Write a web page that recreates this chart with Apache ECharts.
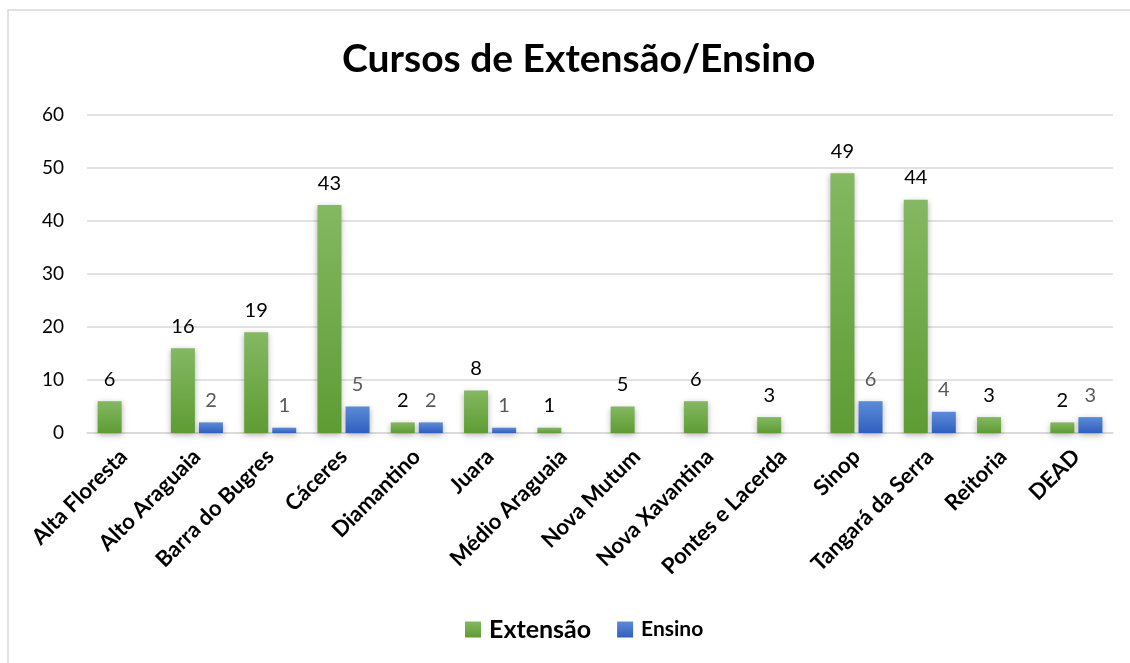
<!DOCTYPE html>
<html>
<head>
    <meta charset="utf-8">
    <title>Cursos de Extensão/Ensino</title>
    <script src="https://cdn.jsdelivr.net/npm/echarts@6/dist/echarts.min.js"></script>
    <style>
        html, body { margin: 0; padding: 0; background: #fff; }
        #chart { width: 1130px; height: 663px; }
    </style>
</head>
<body>
    <div id="chart"></div>
    <script type="text/javascript">
        // dados
        var campus = ['Alta Floresta', 'Alto Araguaia', 'Barra do Bugres', 'Cáceres', 'Diamantino', 'Juara',
            'Médio Araguaia', 'Nova Mutum', 'Nova Xavantina', 'Pontes e Lacerda', 'Sinop', 'Tangará da Serra',
            'Reitoria', 'DEAD'];
        var extensao = [6, 16, 19, 43, 2, 8, 1, 5, 6, 3, 49, 44, 3, 2];
        var ensino = [null, 2, 1, 5, 2, 1, null, null, null, null, 6, 4, null, 3];
        var yTicks = [0, 10, 20, 30, 40, 50, 60];

        var font = 'Lato, "Open Sans", sans-serif';
        var myChart = echarts.init(document.getElementById('chart'));

        function grad(top, bottom) {
            return new echarts.graphic.LinearGradient(0, 0, 0, 1, [
                {offset: 0, color: top},
                {offset: 1, color: bottom}
            ]);
        }

        var option = {
            backgroundColor: '#fff',
            animation: false,
            title: {
                text: 'Cursos de Extensão/Ensino',
                left: 337,
                top: 35,
                textStyle: {fontFamily: font, fontSize: 39, fontWeight: 'bold', color: '#000'}
            },
            graphic: [{
                type: 'rect',
                shape: {x: 8, y: 10, width: 1200, height: 700},
                style: {fill: null, stroke: '#d9d9d9', lineWidth: 1.5},
                silent: true
            }],
            legend: {
                bottom: 16,
                left: 460,
                itemWidth: 16,
                itemHeight: 16,
                itemGap: 26,
                icon: 'rect',
                textStyle: {fontFamily: font, fontWeight: 'bold', color: '#000', padding: [0, 0, 0, 3]},
                data: [
                    {name: 'Extensão', textStyle: {fontSize: 25}},
                    {name: 'Ensino', textStyle: {fontSize: 21}}
                ]
            },
            grid: {left: 87, right: 17, top: 115, bottom: 230},
            xAxis: {
                type: 'category',
                data: campus,
                axisTick: {show: false},
                axisLine: {lineStyle: {color: '#d9d9d9', width: 1.5}},
                axisLabel: {
                    interval: 0,
                    rotate: 45,
                    margin: 20,
                    fontFamily: font,
                    fontSize: 22,
                    fontWeight: 'bold',
                    color: '#000'
                }
            },
            yAxis: {
                type: 'value',
                min: yTicks[0],
                max: yTicks[yTicks.length - 1],
                interval: 10,
                axisLine: {show: false},
                axisTick: {show: false},
                splitLine: {lineStyle: {color: '#d9d9d9', width: 1.5}},
                axisLabel: {margin: 23, fontFamily: font, fontSize: 19, color: '#000'}
            },
            series: [
                {
                    name: 'Extensão',
                    type: 'bar',
                    data: extensao,
                    barGap: '17%',
                    barCategoryGap: '29%',
                    itemStyle: {
                        color: grad('#84b862', '#5e9c33'),
                        shadowBlur: 6,
                        shadowColor: 'rgba(0,0,0,0.3)',
                        shadowOffsetY: 2
                    },
                    label: {
                        show: true,
                        position: 'top',
                        distance: 12,
                        fontFamily: font,
                        fontSize: 20,
                        color: '#000'
                    }
                },
                {
                    name: 'Ensino',
                    type: 'bar',
                    data: ensino,
                    itemStyle: {
                        color: grad('#5d8bd8', '#2f5fbf'),
                        shadowBlur: 6,
                        shadowColor: 'rgba(0,0,0,0.3)',
                        shadowOffsetY: 2
                    },
                    label: {
                        show: true,
                        position: 'top',
                        distance: 12,
                        fontFamily: font,
                        fontSize: 20,
                        color: '#595959'
                    }
                }
            ]
        };

        myChart.setOption(option);
    </script>
</body>
</html>
